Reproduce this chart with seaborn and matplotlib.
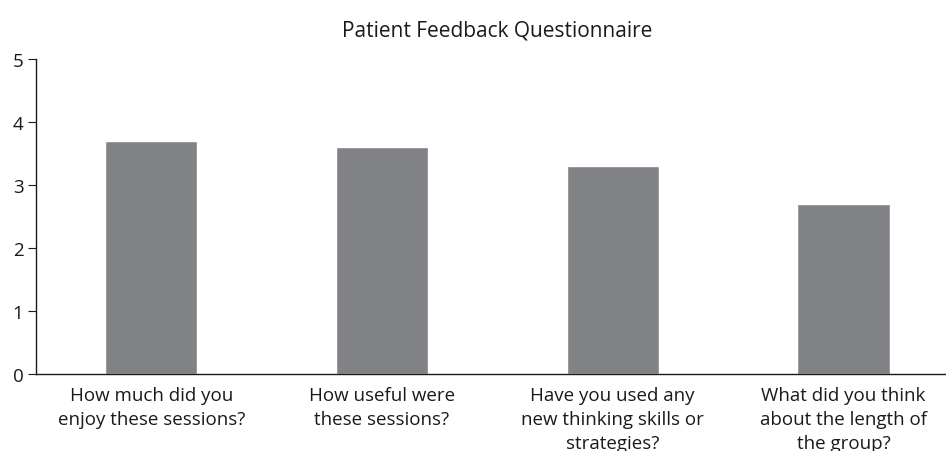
import matplotlib
matplotlib.use("Agg")
import matplotlib.pyplot as plt
import seaborn as sns
import pandas as pd

questions = [
    "How much did you\nenjoy these sessions?",
    "How useful were\nthese sessions?",
    "Have you used any\nnew thinking skills or\nstrategies?",
    "What did you think\nabout the length of\nthe group?",
]
scores = [3.7, 3.6, 3.3, 2.7]

df = pd.DataFrame({"question": questions, "score": scores})

sns.set_style("white")
plt.rcParams["font.family"] = ["Open Sans", "DejaVu Sans"]

fig = plt.figure(figsize=(9.46, 4.52), dpi=100)
ax = fig.add_axes([0.038, 0.1704, 0.9755, 0.697])

sns.barplot(data=df, x="question", y="score", color="#808285", width=0.4,
            saturation=1, ax=ax)

ax.set_ylim(0, 5)
ax.set_xlim(-0.5, 3.5)
ax.set_yticks([0, 1, 2, 3, 4, 5])
ax.set_xlabel("")
ax.set_ylabel("")
ax.set_title("Patient Feedback Questionnaire", fontsize=15, color="#1a1a1a", pad=17)

sns.despine(ax=ax)
for s in ["left", "bottom"]:
    ax.spines[s].set_color("#1a1a1a")
    ax.spines[s].set_linewidth(1.0)

ax.set_xticks([-0.5, 0.5, 1.5, 2.5], minor=True)
ax.tick_params(axis="x", which="major", length=0, labelsize=13.5, labelcolor="#1a1a1a", pad=9)
ax.tick_params(axis="x", which="minor", length=6, direction="out", color="#1a1a1a")
ax.tick_params(axis="y", length=6, direction="out", labelsize=13.5, labelcolor="#1a1a1a",
               color="#1a1a1a", left=True, pad=3)
for lbl in ax.get_xticklabels():
    lbl.set_linespacing(1.4)

fig.savefig("out.png", dpi=100)
